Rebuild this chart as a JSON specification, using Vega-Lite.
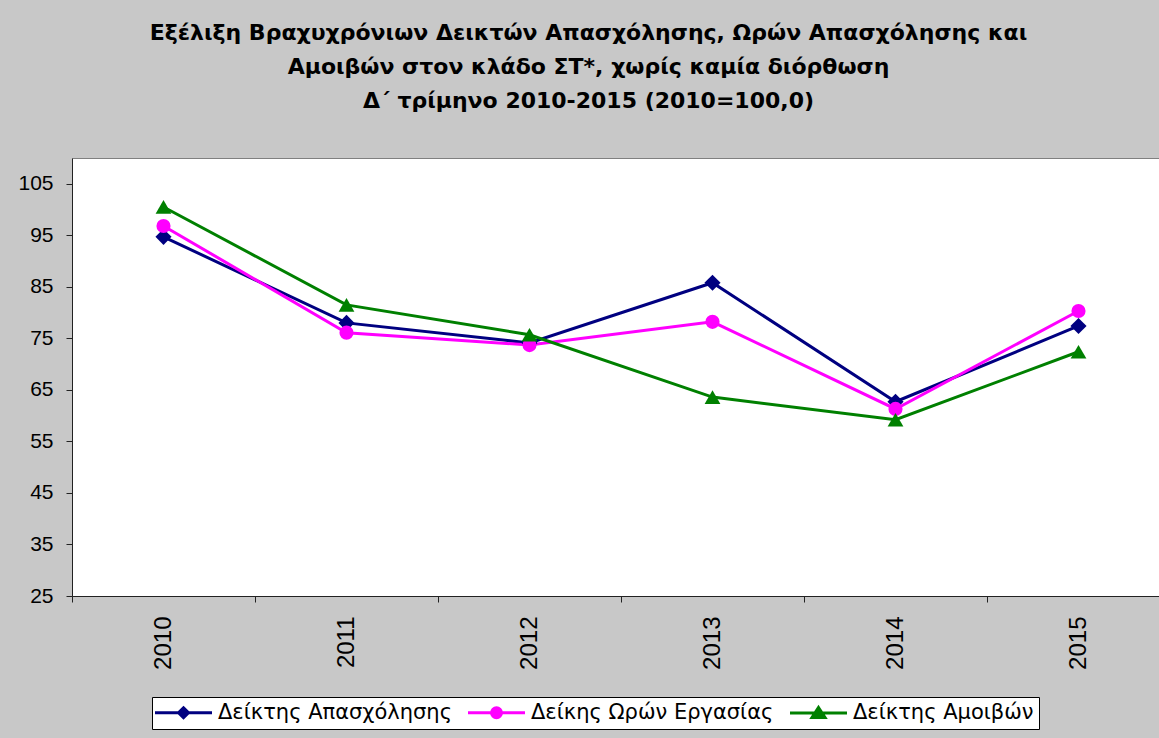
{
  "$schema": "https://vega.github.io/schema/vega-lite/v6.json",
  "width": 1087,
  "height": 438,
  "autosize": {"type": "none"},
  "padding": {"left": 72, "top": 158, "right": 0, "bottom": 142},
  "background": "#c8c8c8",
  "title": {
    "text": ["Εξέλιξη Βραχυχρόνιων Δεικτών Απασχόλησης, Ωρών Απασχόλησης και", "Αμοιβών στον κλάδο ΣΤ*, χωρίς καμία διόρθωση", "Δ΄ τρίμηνο 2010-2015 (2010=100,0)"],
    "font": "DejaVu Sans",
    "fontSize": 22,
    "fontWeight": "bold",
    "lineHeight": 34,
    "anchor": "middle",
    "dx": -27,
    "offset": 45,
    "color": "#000000"
  },
  "data": {
    "values": [
      {"year": "2010", "series": "Δείκτης Απασχόλησης", "value": 94.7},
      {"year": "2011", "series": "Δείκτης Απασχόλησης", "value": 78.0},
      {"year": "2012", "series": "Δείκτης Απασχόλησης", "value": 74.1},
      {"year": "2013", "series": "Δείκτης Απασχόλησης", "value": 85.8},
      {"year": "2014", "series": "Δείκτης Απασχόλησης", "value": 62.7},
      {"year": "2015", "series": "Δείκτης Απασχόλησης", "value": 77.4},
      {"year": "2010", "series": "Δείκης Ωρών Εργασίας", "value": 96.8},
      {"year": "2011", "series": "Δείκης Ωρών Εργασίας", "value": 76.1},
      {"year": "2012", "series": "Δείκης Ωρών Εργασίας", "value": 73.7},
      {"year": "2013", "series": "Δείκης Ωρών Εργασίας", "value": 78.2},
      {"year": "2014", "series": "Δείκης Ωρών Εργασίας", "value": 61.3},
      {"year": "2015", "series": "Δείκης Ωρών Εργασίας", "value": 80.3},
      {"year": "2010", "series": "Δείκτης Αμοιβών", "value": 100.5},
      {"year": "2011", "series": "Δείκτης Αμοιβών", "value": 81.5},
      {"year": "2012", "series": "Δείκτης Αμοιβών", "value": 75.7},
      {"year": "2013", "series": "Δείκτης Αμοιβών", "value": 63.6},
      {"year": "2014", "series": "Δείκτης Αμοιβών", "value": 59.2},
      {"year": "2015", "series": "Δείκτης Αμοιβών", "value": 72.4}
    ]
  },
  "encoding": {
    "x": {
      "field": "year",
      "type": "ordinal",
      "scale": {"type": "band", "range": [0, 1098], "paddingInner": 0, "paddingOuter": 0},
      "axis": {
        "title": null,
        "labelAngle": -90,
        "labelAlign": "right",
        "labelBaseline": "middle",
        "labelFont": "Liberation Sans",
        "labelFontSize": 24,
        "labelColor": "#000000",
        "labelPadding": 14,
        "tickBand": "extent",
        "tickSize": 6,
        "tickColor": "#222222",
        "domainColor": "#222222",
        "grid": false
      }
    },
    "y": {
      "field": "value",
      "type": "quantitative",
      "scale": {"domain": [25, 110], "nice": false, "zero": false},
      "axis": {
        "title": null,
        "values": [25, 35, 45, 55, 65, 75, 85, 95, 105],
        "labelFont": "Liberation Sans",
        "labelFontSize": 21,
        "labelColor": "#000000",
        "labelPadding": 13,
        "tickSize": 6,
        "tickColor": "#222222",
        "domainColor": "#222222",
        "grid": false
      }
    },
    "color": {
      "field": "series",
      "type": "nominal",
      "scale": {
        "domain": ["Δείκτης Απασχόλησης", "Δείκης Ωρών Εργασίας", "Δείκτης Αμοιβών"],
        "range": ["#000080", "#FF00FF", "#008000"]
      },
      "legend": {
        "title": null,
        "orient": "none",
        "legendX": 80,
        "legendY": 539,
        "direction": "horizontal",
        "columns": 3,
        "fillColor": "#ffffff",
        "strokeColor": "#000000",
        "padding": 5,
        "labelFont": "DejaVu Sans",
        "labelFontSize": 21,
        "labelColor": "#000000",
        "labelLimit": 400,
        "symbolSize": 256,
        "labelOffset": 40,
        "columnPadding": 10,
        "symbolStrokeWidth": 3,
        "encode": {
          "symbols": {
            "update": {
              "shape": {"signal": "datum.value === 'Δείκτης Απασχόλησης' ? 'M-1.5625,0L5.5625,0M2,-0.625L2.625,0L2,0.625L1.375,0Z' : datum.value === 'Δείκης Ωρών Εργασίας' ? 'M-1.5625,0L5.5625,0M1.375,0A0.625,0.625,0,1,0,2.625,0A0.625,0.625,0,1,0,1.375,0Z' : 'M-1.5625,0L5.5625,0M2,-0.7L2.8125,0.55L1.1875,0.55Z'"},
              "strokeWidth": {"value": 3}
            }
          }
        }
      }
    }
  },
  "layer": [
    {"mark": {"type": "line", "strokeWidth": 3}},
    {
      "transform": [{"filter": "datum.series === 'Δείκτης Απασχόλησης'"}],
      "mark": {"type": "point", "shape": "diamond", "filled": true, "size": 260, "opacity": 1}
    },
    {
      "transform": [{"filter": "datum.series === 'Δείκης Ωρών Εργασίας'"}],
      "mark": {"type": "point", "shape": "circle", "filled": true, "size": 200, "opacity": 1}
    },
    {
      "transform": [{"filter": "datum.series === 'Δείκτης Αμοιβών'"}],
      "mark": {"type": "point", "shape": "triangle-up", "filled": true, "size": 250, "opacity": 1}
    }
  ],
  "config": {
    "view": {"stroke": "#808080", "fill": "#ffffff"}
  }
}
